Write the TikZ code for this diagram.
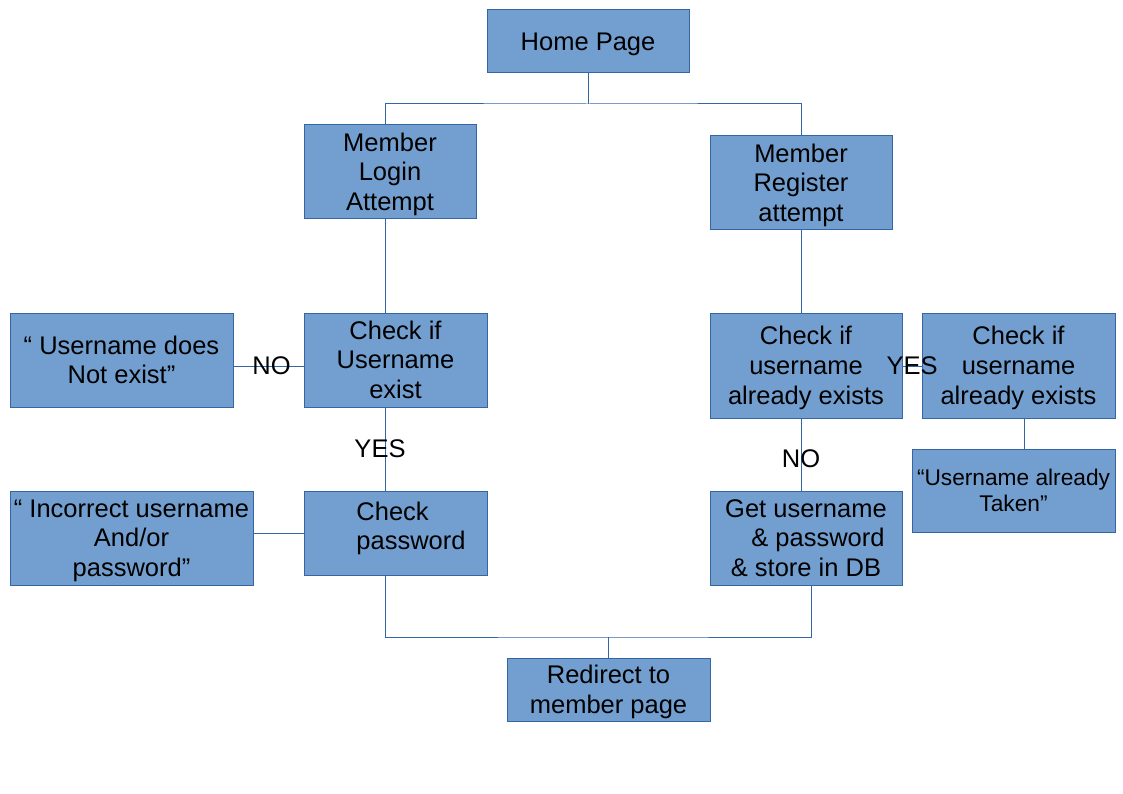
\documentclass[tikz,border=0pt]{standalone}
\usepackage{fontspec}
\setmainfont{Liberation Sans}
\definecolor{boxfill}{HTML}{729FCF}
\definecolor{boxline}{HTML}{3465A4}
\newcommand\lostrut{\rule[-5.4pt]{0pt}{28.5pt}}
\newcommand\smstrut{\rule[-4.8pt]{0pt}{25.4pt}}
\begin{document}
\begin{tikzpicture}[x=1pt,y=-1pt,
  box/.style={draw=boxline, fill=boxfill, line width=1pt, inner sep=0pt,
    align=center, font=\fontsize{25.5}{29.7}\selectfont},
  smallbox/.style={box, font=\fontsize{22.7}{25.4}\selectfont},
  conn/.style={draw=boxline, line width=1pt},
  lbl/.style={font=\fontsize{25.5}{29.7}\selectfont, inner sep=0pt}]
\useasboundingbox (0,0) rectangle (1123,794);
% boxes
\node[box, minimum width=202pt, minimum height=63pt] (home) at (588,41.5) {\lostrut Home Page};
\node[box, minimum width=172pt, minimum height=94pt] (login) at (390,172) {\lostrut Member\\Login\\Attempt\lostrut};
\node[box, minimum width=182pt, minimum height=94pt] (register) at (801,183) {\lostrut Member\\Register\\attempt\lostrut};
\node[box, minimum width=183pt, minimum height=94pt] (checku) at (395.5,360) {\lostrut Check if\\Username\\exist\lostrut};
\node[box, minimum width=223pt, minimum height=94pt] (notexist) at (121.5,360) {\lostrut“ Username does\\Not exist”\lostrut};
\node[box, minimum width=183pt, minimum height=84pt, align=left] (checkp) at (395.5,533) {\lostrut\hspace*{31pt}Check\\\hspace*{31pt}password\rule[-19.4pt]{0pt}{0pt}};
\node[box, minimum width=243pt, minimum height=94pt] (incorrect) at (131.5,538) {\lostrut“ Incorrect username\\And/or\\password”\lostrut};
\node[box, minimum width=192pt, minimum height=105pt] (check1) at (806,365.5) {\lostrut Check if\\username\\already exists\lostrut};
\node[box, minimum width=193pt, minimum height=105pt] (check2) at (1018.5,365.5) {\lostrut Check if\\username\\already exists\lostrut};
\node[smallbox, minimum width=203pt, minimum height=83pt] (taken) at (1013.5,490.5) {\smstrut“Username already\\Taken”\smstrut};
\node[box, minimum width=192pt, minimum height=94pt] (get) at (806,538) {\lostrut Get username\\\hspace*{24pt}\& password\\\& store in DB\lostrut};
\node[box, minimum width=203pt, minimum height=63pt] (redirect) at (608.5,689.5) {\lostrut Redirect to\\member page\lostrut};
% helper coordinates
\coordinate (lx) at (385,0);
\coordinate (rx) at (801,0);
\coordinate (gx) at (811,0);
\coordinate (cx2) at (1024,0);
\coordinate (top) at (588,104);
\coordinate (bot) at (608,637);
\coordinate (ly) at (0,366);
\coordinate (py) at (0,533);
% connectors
\draw[conn] (home.south) -- (top);
\draw[conn] (lx |- login.north) |- (top) -| (rx |- register.north);
\draw[conn] (lx |- login.south) -- (lx |- checku.north);
\draw[conn] (lx |- checku.south) -- node[lbl, xshift=-5pt] {YES} (lx |- checkp.north);
\draw[conn] (notexist.east |- ly) -- node[lbl, xshift=3pt] {NO} (checku.west |- ly);
\draw[conn] (incorrect.east |- py) -- (checkp.west |- py);
\draw[conn] (lx |- checkp.south) |- (bot) -| (gx |- get.south);
\draw[conn] (bot) -- (bot |- redirect.north);
\draw[conn] (rx |- register.south) -- (rx |- check1.north);
\draw[conn] (rx |- check1.south) -- node[lbl, yshift=-4.5pt] {NO} (rx |- get.north);
\draw[conn] (check1.east |- ly) -- node[lbl] {YES} (check2.west |- ly);
\draw[conn] (cx2 |- check2.south) -- (cx2 |- taken.north);
\end{tikzpicture}
\end{document}
